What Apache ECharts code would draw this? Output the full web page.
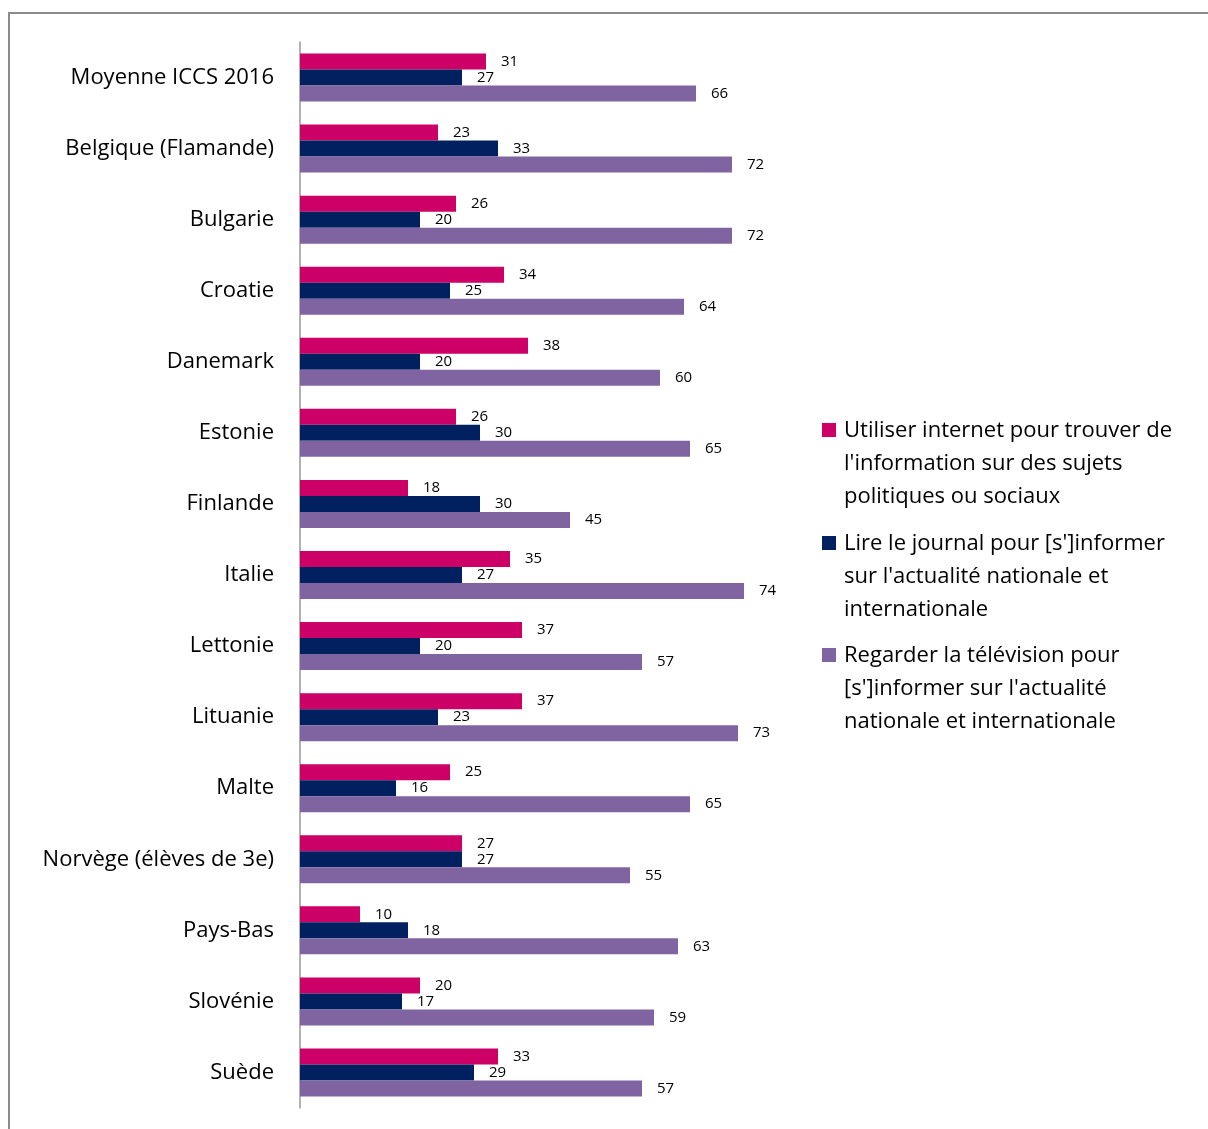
<!DOCTYPE html>
<html>
<head>
<meta charset="utf-8">
<script src="https://cdn.jsdelivr.net/npm/echarts@6/dist/echarts.min.js"></script>
<style>
  html, body { margin: 0; padding: 0; background: #fff; }
  #chart { width: 1208px; height: 1129px; }
</style>
</head>
<body>
<div id="chart"></div>
<script>
var categories = ['Moyenne ICCS 2016', 'Belgique (Flamande)', 'Bulgarie', 'Croatie', 'Danemark',
  'Estonie', 'Finlande', 'Italie', 'Lettonie', 'Lituanie', 'Malte', 'Norvège (élèves de 3e)',
  'Pays-Bas', 'Slovénie', 'Suède'];
var seriesNames = [
  "Utiliser internet pour trouver de\nl'information sur des sujets\npolitiques ou sociaux",
  "Lire le journal pour [s']informer\nsur l'actualité nationale et\ninternationale",
  "Regarder la télévision pour\n[s']informer sur l'actualité\nnationale et internationale"
];
var internet = [31, 23, 26, 34, 38, 26, 18, 35, 37, 37, 25, 27, 10, 20, 33];
var journal = [27, 33, 20, 25, 20, 30, 30, 27, 20, 23, 16, 27, 18, 17, 29];
var television = [66, 72, 72, 64, 60, 65, 45, 74, 57, 73, 65, 55, 63, 59, 57];
var colors = ['#CC0066', '#002060', '#8064A2'];

var font = 'Open Sans';
var myChart = echarts.init(document.getElementById('chart'));

function barSeries(name, data, color) {
  return {
    name: name,
    type: 'bar',
    data: data,
    barWidth: 16,
    barGap: '0%',
    itemStyle: { color: color },
    label: {
      show: true,
      position: 'right',
      distance: 15,
      color: '#000',
      fontFamily: font,
      fontSize: 15
    }
  };
}

// legend drawn by hand so the marker sits on the first text line
var legendItems = [];
var legendTop = [430, 543, 655];
seriesNames.forEach(function (n, i) {
  legendItems.push({
    type: 'rect',
    shape: { x: 822, y: legendTop[i] - 7, width: 14, height: 14 },
    style: { fill: colors[i] }
  });
  legendItems.push({
    type: 'text',
    x: 844,
    y: legendTop[i] - 16,
    style: {
      text: n,
      fill: '#000',
      font: '22px "' + font + '"',
      lineHeight: 33,
      verticalAlign: 'top'
    }
  });
});

option = {
  animation: false,
  grid: { left: 300, top: 42, bottom: 21, width: 480 },
  xAxis: {
    type: 'value',
    min: 0,
    max: 80,
    show: false
  },
  yAxis: {
    type: 'category',
    data: categories,
    inverse: true,
    axisLine: { lineStyle: { color: '#999', width: 1.5 } },
    axisTick: { show: false },
    axisLabel: {
      color: '#000',
      fontFamily: font,
      fontSize: 22,
      margin: 26
    }
  },
  graphic: [{
    type: 'rect',
    shape: { x: 9, y: 13, width: 1300, height: 1300 },
    style: { fill: null, stroke: '#8c8c8c', lineWidth: 2 }
  }].concat(legendItems),
  series: [
    barSeries(seriesNames[0], internet, colors[0]),
    barSeries(seriesNames[1], journal, colors[1]),
    barSeries(seriesNames[2], television, colors[2])
  ]
};

myChart.setOption(option);
window.onresize = () => myChart.resize();
</script>
</body>
</html>
